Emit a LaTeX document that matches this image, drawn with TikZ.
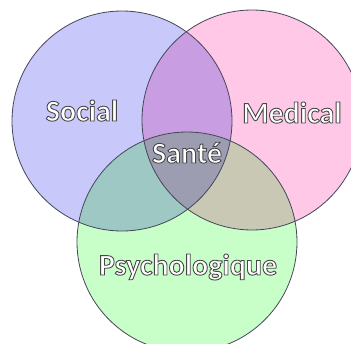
\documentclass[tikz,border=0pt]{standalone}
\usepackage{fontspec}
\setmainfont{Carlito}
\usetikzlibrary{positioning}

\definecolor{socblue}{RGB}{200,200,250}
\definecolor{medpink}{RGB}{255,200,230}
\definecolor{psygreen}{RGB}{200,255,200}
\definecolor{socmed}{RGB}{200,157,225}
\definecolor{socpsy}{RGB}{157,200,196}
\definecolor{medpsy}{RGB}{200,200,180}
\definecolor{allthree}{RGB}{157,157,177}
\definecolor{rimline}{RGB}{70,70,90}

% white letters with a dark outline
\newcommand{\outlined}[1]{\special{pdf:literal direct 2 Tr 0.9 w 0.28 0.28 0.28 RG}#1\special{pdf:literal direct 0 Tr}}

\tikzset{
  lbl/.style={font=\fontsize{30}{36}\selectfont\bfseries, text=white, inner sep=0pt, anchor=base},
  rim/.style={draw=rimline, line width=0.8pt}
}

\begin{document}
\begin{tikzpicture}[x=1pt,y=-1pt]
    \useasboundingbox (0,0) rectangle (351,343);
    \clip (0,0) rectangle (351,343);

    \coordinate (soc) at (122,121);
    \coordinate (med) at (252,120);
    \coordinate (psy) at (187,242);

    % single circles
    \fill[socblue] (soc) circle[radius=110pt];
    \fill[medpink] (med) circle[radius=110pt];
    \fill[psygreen] (psy) circle[radius=110pt];

    % pairs
    \begin{scope}
        \clip (soc) circle[radius=110pt];
        \fill[socmed] (med) circle[radius=110pt];
        \fill[socpsy] (psy) circle[radius=110pt];
    \end{scope}
    \begin{scope}
        \clip (med) circle[radius=110pt];
        \fill[medpsy] (psy) circle[radius=110pt];
    \end{scope}
    % all three
    \begin{scope}
        \clip (soc) circle[radius=110pt];
        \clip (med) circle[radius=110pt];
        \fill[allthree] (psy) circle[radius=110pt];
    \end{scope}

    \draw[rim] (soc) circle[radius=110pt];
    \draw[rim] (med) circle[radius=110pt];
    \draw[rim] (psy) circle[radius=110pt];

    \node[lbl] (social) at (82,121) {\outlined{Social}};
    \node[lbl] (medical) at (292,123) {\outlined{Medical}};
    \node[lbl] (sante) at (187,163) {\outlined{Santé}};
    \node[lbl] (psycho) at (188,275) {\outlined{Psychologique}};
\end{tikzpicture}
\end{document}
